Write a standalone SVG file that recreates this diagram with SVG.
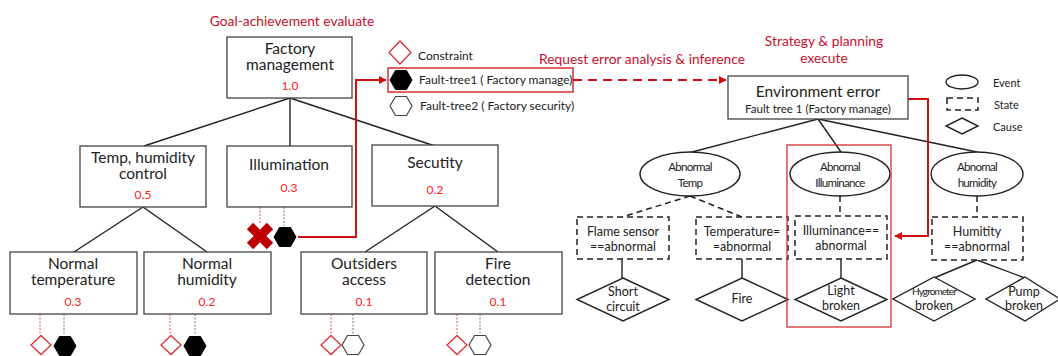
<svg xmlns="http://www.w3.org/2000/svg" width="1058" height="356" viewBox="0 0 1058 356">
  <defs>
    <style>
      text { font-family: "Lato", "Open Sans", "Liberation Sans", sans-serif; text-anchor: middle; dominant-baseline: central; fill: #222; }
      .box { fill: #fff; stroke: #444; stroke-width: 1.3; }
      .ttl { font-size: 15.5px; }
      .val { font-size: 12px; fill: #ff2020; }
      .red { fill: #c8102e; font-size: 13.8px; }
      .leg { font-size: 11px; text-anchor: start; }
      .leg2 { font-size: 12px; text-anchor: start; }
      .tree { stroke: #222; stroke-width: 1.4; fill: none; }
      .dash { stroke: #222; stroke-width: 1.5; fill: none; stroke-dasharray: 6 4; }
      .state { fill: #fff; stroke: #222; stroke-width: 1.5; stroke-dasharray: 6 4; }
      .shape { fill: #fff; stroke: #222; stroke-width: 1.4; }
      .small { font-size: 12.5px; }
      .cond { font-size: 11.5px; letter-spacing: -0.7px; }
      .rdot { stroke: #e05050; stroke-width: 1; stroke-dasharray: 2 1.5; }
      .gdot { stroke: #777; stroke-width: 1; stroke-dasharray: 2 1.5; }
      .cons { fill: #fff; stroke: #e03030; stroke-width: 1.3; }
      .hexb { fill: #000; stroke: #000; stroke-width: 1; }
      .hexw { fill: #fff; stroke: #444; stroke-width: 1.2; }
      .redline { stroke: #d01010; stroke-width: 2; fill: none; }
    </style>
    <marker id="arrR" viewBox="0 0 10 10" refX="9" refY="5" markerWidth="4" markerHeight="4" orient="auto">
      <path d="M0,0 L10,5 L0,10 z" fill="#d01010"/>
    </marker>
    <polygon id="hex" points="-11,0 -5.5,-9.5 5.5,-9.5 11,0 5.5,9.5 -5.5,9.5"/>
    <polygon id="dia" points="0,-9.5 10,0 0,9.5 -10,0"/>
  </defs>

  <!-- captions -->
  <text class="red" x="292" y="20">Goal-achievement evaluate</text>
  <text class="red" x="642" y="58">Request error analysis &amp; inference</text>
  <text class="red" x="824" y="40">Strategy &amp; planning</text>
  <text class="red" x="824" y="57">execute</text>

  <!-- connectors -->
  <g id="connectors">
    <path class="tree" d="M290,98 L144,146 M290,98 L290,146 M290,98 L435,146"/>
    <path class="tree" d="M143,207 L74,252 M143,207 L207,252"/>
    <path class="tree" d="M435,206 L365,252 M435,206 L498,252"/>
    <path class="tree" d="M818,119 L692,152 M818,119 L841,152 M818,119 L977,152"/>
    <path class="dash" d="M690,196 L622,217 M690,196 L742,217 M840,196 L840,216 M977,196 L977,217"/>
    <path class="tree" d="M622,259 L622,278 M742,259 L742,278 M841,259 L841,278"/>
    <path class="tree" d="M977,260 L934,278 M977,260 L1025,278"/>
    <!-- marker stems -->
    <path class="rdot" d="M40,314 V335 M170,314 V335 M331,314 V335 M457,314 V335 M260,207 V224"/>
    <path class="gdot" d="M64,314 V335 M195,314 V335 M353,314 V335 M480,314 V335 M284,207 V226"/>
    <!-- red flows -->
    <path class="redline" d="M298,237 H356 V80 H386" marker-end="url(#arrR)"/>
    <path class="redline" d="M573,80 H726" stroke-dasharray="9 6" marker-end="url(#arrR)"/>
    <path class="redline" d="M908,99 H928 V236 H895" marker-end="url(#arrR)"/>
  </g>

  <!-- goal tree -->
  <g id="factory-management">
    <rect class="box" x="227" y="37" width="125" height="61"/>
    <text class="ttl" x="290" y="48">Factory</text>
    <text class="ttl" x="290" y="64">management</text>
    <text class="val" x="290" y="85">1.0</text>
  </g>
  <g id="temp-humidity">
    <rect class="box" x="80" y="146" width="126" height="61"/>
    <text class="ttl" x="143" y="157">Temp, humidity</text>
    <text class="ttl" x="143" y="173">control</text>
    <text class="val" x="143" y="194">0.5</text>
  </g>
  <g id="illumination">
    <rect class="box" x="227" y="146" width="125" height="61"/>
    <text class="ttl" x="289" y="164">Illumination</text>
    <text class="val" x="289" y="187">0.3</text>
  </g>
  <g id="secutity">
    <rect class="box" x="372" y="145" width="126" height="61"/>
    <text class="ttl" x="435" y="162">Secutity</text>
    <text class="val" x="435" y="189">0.2</text>
  </g>
  <g id="normal-temperature">
    <rect class="box" x="10" y="252" width="127" height="62"/>
    <text class="ttl" x="73" y="263">Normal</text>
    <text class="ttl" x="73" y="279">temperature</text>
    <text class="val" x="73" y="301">0.3</text>
  </g>
  <g id="normal-humidity">
    <rect class="box" x="144" y="252" width="127" height="62"/>
    <text class="ttl" x="207" y="263">Normal</text>
    <text class="ttl" x="207" y="279">humidity</text>
    <text class="val" x="207" y="301">0.2</text>
  </g>
  <g id="outsiders-access">
    <rect class="box" x="301" y="252" width="126" height="62"/>
    <text class="ttl" x="364" y="263">Outsiders</text>
    <text class="ttl" x="364" y="279">access</text>
    <text class="val" x="364" y="301">0.1</text>
  </g>
  <g id="fire-detection">
    <rect class="box" x="435" y="252" width="127" height="62"/>
    <text class="ttl" x="498" y="263">Fire</text>
    <text class="ttl" x="498" y="279">detection</text>
    <text class="val" x="498" y="301">0.1</text>
  </g>

  <!-- constraint / fault-tree markers -->
  <g id="markers">
    <use href="#dia" class="cons" x="41" y="345"/>
    <use href="#hex" class="hexb" x="65" y="346"/>
    <use href="#dia" class="cons" x="171" y="345"/>
    <use href="#hex" class="hexb" x="195" y="346"/>
    <use href="#dia" class="cons" x="331" y="345"/>
    <use href="#hex" class="hexw" x="353" y="345"/>
    <use href="#dia" class="cons" x="457" y="345"/>
    <use href="#hex" class="hexw" x="480" y="345"/>
    <path d="M250,226 L270,246 M270,226 L250,246" stroke="#c00000" stroke-width="9"/>
    <use href="#hex" class="hexb" x="285" y="237"/>
  </g>

  <!-- legend -->
  <g id="legend-goal">
    <polygon class="cons" points="400,41 411,52.5 400,64 389,52.5"/>
    <text class="leg2" x="418" y="55">Constraint</text>
    <rect x="388" y="68" width="185" height="24" fill="none" stroke="#d01010" stroke-width="1.3"/>
    <use href="#hex" class="hexb" x="401" y="80"/>
    <text class="leg2" x="419" y="79">Fault-tree1 ( Factory manage)</text>
    <use href="#hex" class="hexw" x="401" y="106"/>
    <text class="leg2" x="420" y="105">Fault-tree2 ( Factory security)</text>
  </g>
  <g id="legend-fault">
    <ellipse class="shape" cx="962" cy="82" rx="16" ry="7"/>
    <text class="leg" x="993" y="82">Event</text>
    <rect class="state" x="947" y="98" width="31" height="12" stroke-dasharray="5 3.5"/>
    <text class="leg" x="994" y="104">State</text>
    <polygon class="shape" points="962,118 978,126 962,134 946,126"/>
    <text class="leg" x="993" y="126">Cause</text>
  </g>

  <!-- fault tree -->
  <g id="environment-error">
    <rect class="box" x="728" y="76" width="180" height="43" stroke="#222"/>
    <text class="ttl" x="818" y="91">Environment error</text>
    <text x="818" y="108" font-size="11.5px">Fault tree 1 (Factory manage)</text>
  </g>
  <g id="abnormal-temp">
    <ellipse class="shape" cx="690" cy="174" rx="50" ry="22"/>
    <text class="cond" x="690" y="166">Abnormal</text>
    <text class="cond" x="690" y="182">Temp</text>
  </g>
  <g id="abnormal-illuminance">
    <ellipse class="shape" cx="840" cy="174" rx="50" ry="22"/>
    <text class="cond" x="840" y="166">Abnomal</text>
    <text class="cond" x="840" y="182">Illuminance</text>
  </g>
  <g id="abnormal-humidity">
    <ellipse class="shape" cx="977" cy="174" rx="46" ry="22"/>
    <text class="cond" x="977" y="166">Abnomal</text>
    <text class="cond" x="977" y="182">humidity</text>
  </g>
  <g id="flame-sensor">
    <rect class="state" x="577" y="217" width="92" height="42"/>
    <text class="small" x="623" y="231">Flame sensor</text>
    <text class="small" x="623" y="246">==abnormal</text>
  </g>
  <g id="temperature-state">
    <rect class="state" x="696" y="217" width="92" height="42"/>
    <text class="small" x="742" y="231">Temperature=</text>
    <text class="small" x="742" y="246">=abnormal</text>
  </g>
  <g id="illuminance-state">
    <rect class="state" x="795" y="216" width="92" height="43"/>
    <text class="small" x="841" y="230">Illuminance==</text>
    <text class="small" x="841" y="245">abnormal</text>
  </g>
  <g id="humitity-state">
    <rect class="state" x="932" y="217" width="91" height="43"/>
    <text class="small" x="977" y="231">Humitity</text>
    <text class="small" x="977" y="246">==abnormal</text>
  </g>
  <g id="short-circuit">
    <polygon class="shape" points="623,278 669,299.5 623,321 577,299.5"/>
    <text class="small" x="623" y="291">Short</text>
    <text class="small" x="623" y="306">circuit</text>
  </g>
  <g id="fire">
    <polygon class="shape" points="742,278 788,299.5 742,321 696,299.5"/>
    <text class="small" x="742" y="298">Fire</text>
  </g>
  <g id="light-broken">
    <polygon class="shape" points="841,278 887,299.5 841,321 795,299.5"/>
    <text class="small" x="841" y="290">Light</text>
    <text class="small" x="841" y="305">broken</text>
  </g>
  <g id="hygrometer-broken">
    <polygon class="shape" points="934,277 975,299 934,321 893,299"/>
    <text x="934" y="291" font-size="10px" letter-spacing="-0.9px">Hygrometer</text>
    <text class="small" x="934" y="305">broken</text>
  </g>
  <g id="pump-broken">
    <polygon class="shape" points="1025,277 1060,299 1025,321 986,299"/>
    <text class="small" x="1024" y="291">Pump</text>
    <text class="small" x="1024" y="305">broken</text>
  </g>
  <rect x="787" y="145" width="104" height="182" fill="none" stroke="#d03030" stroke-width="1.3"/>
</svg>
